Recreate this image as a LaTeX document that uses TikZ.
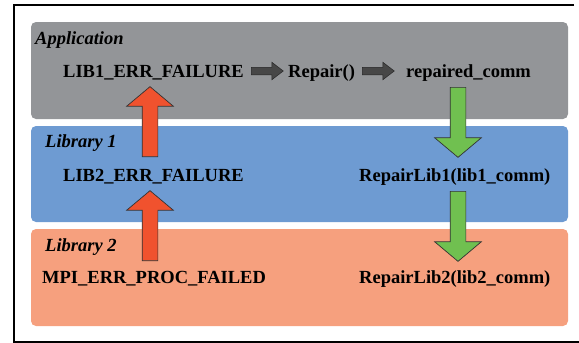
\documentclass[tikz,border=0pt]{standalone}
\usepackage{fontspec}
\setmainfont{Liberation Serif}
\usetikzlibrary{shapes.arrows}
\usetikzlibrary{positioning}

\definecolor{appgray}{RGB}{147,149,152}
\definecolor{libblue}{RGB}{110,155,210}
\definecolor{liborange}{RGB}{246,160,126}
\definecolor{errred}{RGB}{240,82,46}
\definecolor{fixgreen}{RGB}{112,192,80}

\begin{document}
\begin{tikzpicture}[x=1pt,y=-1pt,
    lbl/.style={anchor=base west, inner sep=0pt,
        font=\fontsize{18.5}{22}\selectfont\bfseries},
    layername/.style={lbl, font=\fontsize{18.5}{22}\selectfont\bfseries\itshape},
    layerbox/.style={rounded corners=5pt},
    bigarrow/.style={single arrow, draw=black!80, line width=0.7pt,
        inner sep=7.5pt, minimum height=70pt, minimum width=15pt,
        single arrow head extend=15.5pt, single arrow tip angle=100,
        anchor=tail, rotate=#1},
    smallarrow/.style={single arrow, draw=black!85, fill=black!72, line width=0.5pt,
        inner sep=3.5pt, minimum height=32pt, minimum width=7pt,
        single arrow head extend=5pt, single arrow tip angle=75, anchor=tail}]
\useasboundingbox (0,0) rectangle (579,343);

% frame
\draw[line width=2pt] (574,5) -- (14,5) -- (14,342) -- (579,342);

% layers
\fill[layerbox, appgray] (31,22) rectangle (568,119);
\fill[layerbox, libblue] (31,126) rectangle (568,222);
\fill[layerbox, liborange] (31,229) rectangle (568,326);

\node[layername] (app) at (35,44) {Application};
\node[layername] (lib1) at (45,147) {Library 1};
\node[layername] (lib2) at (45,251) {Library 2};

% error path
\node[lbl] (lib1err) at (63,77) {LIB1\_ERR\_FAILURE};
\node[lbl] (lib2err) at (63,181) {LIB2\_ERR\_FAILURE};
\node[lbl] (mpierr) at (42,283) {MPI\_ERR\_PROC\_FAILED};

% repair path
\node[lbl] (repair) at (288,77) {Repair()};
\node[lbl] (repcomm) at (406,77) {repaired\_comm};
\node[lbl] (replib1) at (359,181) {RepairLib1(lib1\_comm)};
\node[lbl] (replib2) at (359,283) {RepairLib2(lib2\_comm)};

\node[smallarrow] (dark1) at (251,71) {};
\node[smallarrow] (dark2) at (362,71) {};

\node[bigarrow=90, fill=errred] (red1) at (150,157) {};
\node[bigarrow=90, fill=errred] (red2) at (150,261) {};
\node[bigarrow=-90, fill=fixgreen] (green1) at (458,87) {};
\node[bigarrow=-90, fill=fixgreen] (green2) at (458,191) {};
\end{tikzpicture}
\end{document}
